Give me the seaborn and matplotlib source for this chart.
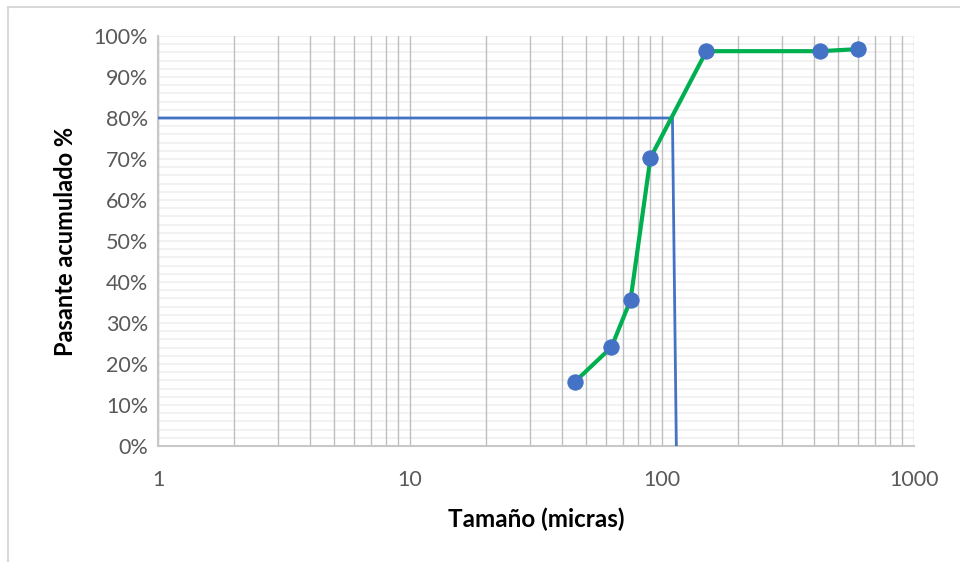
import matplotlib
matplotlib.use("Agg")
import matplotlib.pyplot as plt
from matplotlib.ticker import LogLocator, MultipleLocator, PercentFormatter, FixedLocator, FixedFormatter, NullFormatter
from matplotlib.patches import Rectangle
import seaborn as sns
import pandas as pd
import numpy as np

# Particle size distribution (cumulative passing)
sizes_um = [45, 63, 75, 90, 150, 425, 600]
passing_pct = [15.6, 24.1, 35.6, 70.3, 96.3, 96.3, 96.8]

# d80 guide line
d80_x = [1, 110, 114]
d80_y = [80, 80, 0]

x_ticks = [1, 10, 100, 1000]
x_tick_labels = ["1", "10", "100", "1000"]

sns.set_theme(style="white")
plt.rcParams["font.family"] = ["Lato", "DejaVu Sans"]

fig = plt.figure(figsize=(9.6, 5.62), dpi=100)
W, H = 960, 562
ax = fig.add_axes([158 / W, 1 - 446 / H, (914 - 158) / W, (446 - 36) / H])

curve = pd.DataFrame({"size": sizes_um, "passing": passing_pct})
guide = pd.DataFrame({"size": d80_x, "passing": d80_y})

sns.lineplot(data=guide, x="size", y="passing", sort=False, ax=ax,
             color="#4472C4", linewidth=2.0, zorder=3)
sns.lineplot(data=curve, x="size", y="passing", sort=False, ax=ax,
             color="#00B050", linewidth=3.0, marker="o", markersize=11,
             markerfacecolor="#4472C4", markeredgecolor="#4472C4", zorder=4)

ax.set_xscale("log")
ax.set_xlim(1, 1000)
ax.set_ylim(0, 100)

ax.xaxis.set_major_locator(FixedLocator(x_ticks))
ax.xaxis.set_major_formatter(FixedFormatter(x_tick_labels))
ax.xaxis.set_minor_locator(LogLocator(base=10, subs=range(2, 10)))
ax.xaxis.set_minor_formatter(NullFormatter())
ax.yaxis.set_major_locator(MultipleLocator(10))
ax.yaxis.set_minor_locator(MultipleLocator(2))
ax.yaxis.set_major_formatter(PercentFormatter(100, decimals=0))

# light horizontal gridlines every 2 %, under the vertical ones
ax.grid(False)
for yv in np.arange(2, 101, 2):
    ax.axhline(yv, color="#F0F0F0", linewidth=1.2, zorder=0.1)
ax.grid(True, which="both", axis="x", color="#BFBFBF", linewidth=1.0)
ax.set_axisbelow(True)

for side in ["top", "right"]:
    ax.spines[side].set_visible(False)
for side in ["left", "bottom"]:
    ax.spines[side].set_color("#C8C8C8")
    ax.spines[side].set_linewidth(1.5)

ax.tick_params(axis="both", which="major", direction="out", length=5, width=1.5,
               color="#C8C8C8", labelcolor="#595959", labelsize=15.5)
ax.tick_params(axis="x", which="major", pad=12)
ax.tick_params(axis="y", which="major", pad=2)
ax.tick_params(axis="both", which="minor", length=0)

ax.set_xlabel("Tamaño (micras)", fontsize=17.5, fontweight="bold", color="black", labelpad=13)
ax.set_ylabel("Pasante acumulado %", fontsize=17, fontweight="bold", color="black", labelpad=12)

# chart frame
fig.patches.append(Rectangle((8 / W, -0.1), 1.2, 1 - 7 / H + 0.1, transform=fig.transFigure,
                             fill=False, edgecolor="#D9D9D9", linewidth=1.5))

fig.savefig("out.png", dpi=100)
